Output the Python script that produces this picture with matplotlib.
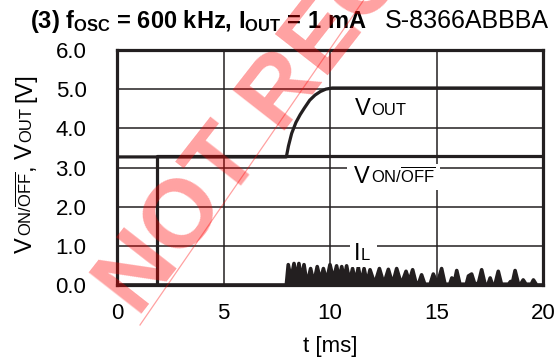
import matplotlib
matplotlib.use("Agg")
import matplotlib.pyplot as plt
from matplotlib.transforms import IdentityTransform, Bbox
from matplotlib.lines import Line2D
from matplotlib.patches import Rectangle

plt.rcParams["font.family"] = ["Liberation Sans", "DejaVu Sans"]
plt.rcParams["mathtext.fontset"] = "custom"
plt.rcParams["mathtext.rm"] = "Liberation Sans"
plt.rcParams["mathtext.bf"] = "Liberation Sans:bold"
plt.rcParams["mathtext.it"] = "Liberation Sans:italic"

# V_ON/OFF step
t_von = [0, 1.86, 1.86, 20]
v_von = [0, 0, 3.30, 3.30]

# V_OUT soft start
t_vout = [0, 7.95, 8.05, 8.2, 8.4, 8.6, 8.8, 9.05, 9.3, 9.55, 9.8, 10.1, 20]
v_vout = [3.27, 3.27, 3.55, 3.87, 4.15, 4.35, 4.52, 4.72, 4.85, 4.94, 5.0, 5.03, 5.03]

# inductor current bursts (peaks and valleys)
t_il = [0, 7.95, 8.04, 8.17, 8.31, 8.43, 8.54, 8.66, 8.78, 8.92, 9.09, 9.24,
        9.40, 9.55, 9.69, 9.84, 10.0, 10.16, 10.31, 10.43, 10.55, 10.67, 10.78,
        10.92, 11.06, 11.2, 11.33, 11.47, 11.60, 11.74, 11.88, 12.1, 12.32,
        12.53, 12.74, 12.94, 13.13, 13.35, 13.57, 13.72, 13.88,
        14.05, 14.15, 14.3, 14.45, 14.7, 14.85, 15.0, 15.1, 15.24, 15.4,
        15.62, 15.72, 15.82, 15.95, 16.1, 16.4, 16.5, 16.65, 16.8, 16.97,
        17.12, 17.28, 17.42, 17.52, 17.62, 17.75, 17.9, 18.05, 18.38, 18.48,
        18.55, 18.69, 18.85, 18.95, 19.07, 19.2, 19.45, 19.55, 19.7, 20]
i_il = [0, 0, 0.52, 0.15, 0.55, 0.15, 0.55, 0.15, 0.52, 0.02, 0.42, 0.05,
        0.47, 0.12, 0.42, 0.10, 0.52, 0.15, 0.49, 0.15, 0.47, 0.15, 0.49,
        0.08, 0.42, 0.08, 0.45, 0.05, 0.42, 0.05, 0.39, 0.03, 0.42,
        0.03, 0.40, 0.03, 0.42, 0.02, 0.35, 0.10, 0.39,
        0.02, 0.02, 0.26, 0.02, 0.02, 0.28, 0.08, 0.15, 0.42, 0.02,
        0.02, 0.18, 0.02, 0.37, 0.02, 0.02, 0.23, 0.28, 0.02, 0.05,
        0.39, 0.02, 0.02, 0.18, 0.02, 0.02, 0.35, 0.02, 0.02, 0.09,
        0.02, 0.37, 0.02, 0.02, 0.13, 0.02, 0.02, 0.13, 0, 0]

x_ticks = [0, 5, 10, 15, 20]
y_ticks = [0, 1, 2, 3, 4, 5, 6]

W, H = 556, 359
ink = "#231f20"

fig = plt.figure(figsize=(W / 100, H / 100), dpi=100)
ax = fig.add_axes([117 / W, 1 - 285 / H, 426 / W, 235 / H])

ax.plot(t_vout, v_vout, color=ink, lw=2.3, solid_joinstyle="round", zorder=3)
ax.plot(t_von, v_von, color=ink, lw=2.3, zorder=3)
ax.fill_between(t_il, i_il, 0, color=ink, lw=0, zorder=3)
ax.plot(t_il, i_il, color=ink, lw=2.6, solid_joinstyle="round", zorder=3)

ax.set_xlim(0, 20)
ax.set_ylim(0, 6)
ax.set_xticks(x_ticks)
ax.set_yticks(y_ticks)
ax.set_yticklabels([f"{v:.1f}" for v in y_ticks])
ax.tick_params(length=0, labelsize=16, colors="black")
ax.tick_params(axis="x", pad=13)
ax.tick_params(axis="y", pad=22)
ax.grid(True, color=ink, lw=1.1)
ax.set_axisbelow(True)
for s in ax.spines.values():
    s.set_linewidth(2.3)
    s.set_color(ink)

fig.text(30 / W, 1 - 28 / H,
         r"(3) f$_{\mathbf{OSC}}$ = 600 kHz, I$_{\mathbf{OUT}}$ = 1 mA",
         fontsize=17, fontweight="bold", ha="left", va="baseline")
fig.text(549 / W, 1 - 28 / H, "S-8366ABBBA", fontsize=18, ha="right", va="baseline")
fig.text(330 / W, 1 - 352 / H, "t [ms]", fontsize=16, ha="center", va="baseline")

renderer = fig.canvas.get_renderer()


def chain(x, y, parts, rot=0, box=None):
    # pieces of text sharing one baseline, x/y in display pixels
    boxes = []
    for s, size, gap in parts:
        if rot == 0:
            x += gap
        else:
            y += gap
        t = fig.text(x, y, s, fontsize=size, transform=IdentityTransform(),
                     ha="left", va="baseline", rotation=rot,
                     rotation_mode="anchor", zorder=5)
        bb = t.get_window_extent(renderer)
        boxes.append(bb)
        if rot == 0:
            x = bb.x1
        else:
            y = bb.y1
    if box is not None:
        # white patch behind the label, cutting the grid line
        u = Bbox.union(boxes)
        left, right = box
        fig.add_artist(Rectangle((u.x0 - left, u.y0 - 2), u.width + left + right,
                                 u.height + 4, transform=IdentityTransform(),
                                 facecolor="white", edgecolor="none", zorder=4))


def data_px(t, v):
    return ax.transData.transform((t, v))


sub_off = r"ON/$\overline{\mathregular{OFF}}$"
x0, y0 = data_px(11.17, 4.34)
chain(x0, y0, [("V", 17, 0), ("OUT", 12, 1)])
x0, y0 = data_px(11.12, 2.60)
chain(x0, y0, [("V", 17, 0), (sub_off, 12, 1)], box=(7, 5))
x0, y0 = data_px(11.12, 0.64)
chain(x0, y0, [("I", 17, 0), ("L", 12, 0.5)], box=(4, 7))

chain(31.5, H - 253, [("V", 17, 0), (sub_off, 12, 1), (",", 17, 1),
                      ("V", 17, 5), ("OUT", 12, 1), ("[V]", 17, 5)], rot=90)

# watermark
fig.text(138, H - 318, "NOT RECOMMENDED", transform=IdentityTransform(),
         fontsize=70, fontweight="bold", color="red", alpha=0.37,
         rotation=52, rotation_mode="anchor", ha="left", va="baseline", zorder=20)
fig.add_artist(Line2D([140, 372], [H - 325, H + 12], transform=IdentityTransform(),
                      color="red", alpha=0.37, lw=0.9, zorder=20))

fig.savefig("out.png", dpi=100)
